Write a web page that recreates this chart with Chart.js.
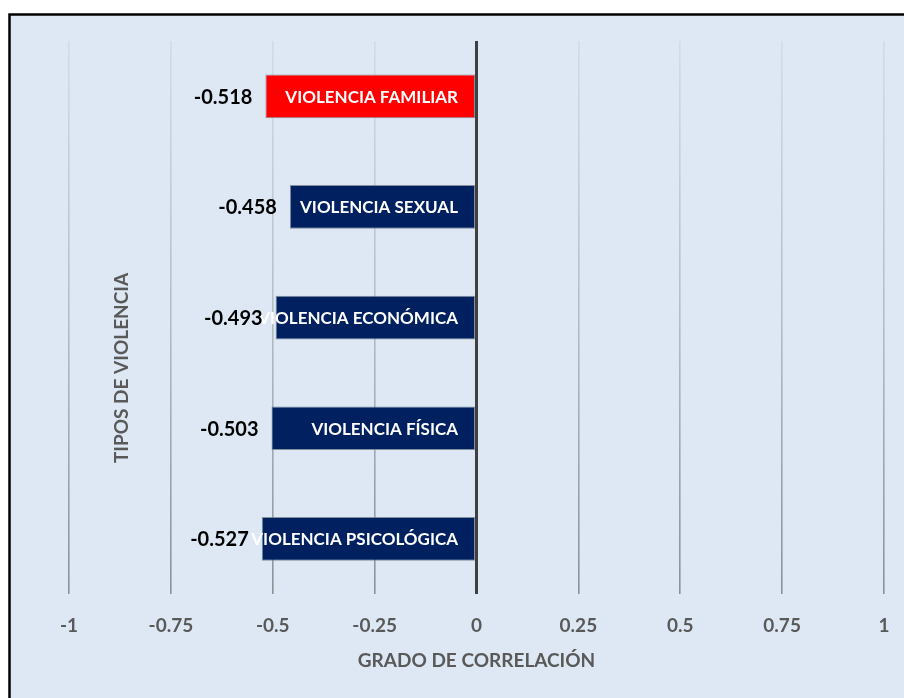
<!DOCTYPE html>
<html>
<head>
<meta charset="utf-8">
<script src="https://cdn.jsdelivr.net/npm/chart.js@4.4.1/dist/chart.umd.min.js"></script>
<style>
html,body{margin:0;padding:0;background:#ffffff;}
#wrap{position:relative;width:904px;height:698px;}
</style>
</head>
<body>
<div id="wrap"><canvas id="c" width="904" height="698"></canvas></div>
<script>
const categories = ["VIOLENCIA FAMILIAR","VIOLENCIA SEXUAL","VIOLENCIA ECONÓMICA","VIOLENCIA FÍSICA","VIOLENCIA PSICOLÓGICA"];
const correlations = [-0.518, -0.458, -0.493, -0.503, -0.527];
const barColors = ["#ff0000","#002060","#002060","#002060","#002060"];
const xTicks = [-1,-0.75,-0.5,-0.25,0,0.25,0.5,0.75,1];
const xTitle = "GRADO DE CORRELACIÓN";
const yTitle = "TIPOS DE VIOLENCIA";

const FONT = "Lato, 'Open Sans', 'DejaVu Sans', sans-serif";

const bgPlugin = {
  id: 'bg',
  beforeDraw(chart){
    const ctx = chart.ctx;
    ctx.save();
    ctx.fillStyle = '#ffffff';
    ctx.fillRect(0,0,chart.width,chart.height);
    ctx.fillStyle = '#dde8f4';
    ctx.fillRect(9,14,chart.width-9,chart.height-14);
    ctx.strokeStyle = '#000000';
    ctx.lineWidth = 2.5;
    ctx.beginPath();
    ctx.moveTo(9.5, chart.height+2);
    ctx.lineTo(9.5, 14.5);
    ctx.lineTo(chart.width+2, 14.5);
    ctx.stroke();
    ctx.restore();
  }
};

const labelPlugin = {
  id: 'labels',
  afterDatasetsDraw(chart){
    const ctx = chart.ctx;
    const meta = chart.getDatasetMeta(0);
    const area = chart.chartArea;
    const xs = chart.scales.x;
    ctx.save();
    ctx.textBaseline = 'middle';
    meta.data.forEach((bar, i) => {
      const left = Math.min(bar.x, bar.base);
      const right = Math.max(bar.x, bar.base);
      ctx.font = "bold 17px " + FONT;
      ctx.fillStyle = '#ffffff';
      ctx.textAlign = 'right';
      ctx.fillText(categories[i], right - 17, bar.y + 1);
      ctx.font = "bold 20px " + FONT;
      ctx.fillStyle = '#000000';
      ctx.textAlign = 'right';
      ctx.fillText(correlations[i].toFixed(3), left - 13, bar.y + 1);
    });
    // x axis title
    ctx.font = "bold 19px " + FONT;
    ctx.fillStyle = '#595959';
    ctx.textAlign = 'center';
    ctx.fillText(xTitle, xs.getPixelForValue(0), area.bottom + 67);
    // y axis title
    ctx.translate(122, 368);
    ctx.rotate(-Math.PI/2);
    ctx.fillText(yTitle, 0, 0);
    ctx.restore();
  }
};

new Chart(document.getElementById('c'), {
  type: 'bar',
  data: {
    labels: categories,
    datasets: [{
      data: correlations,
      backgroundColor: barColors,
      borderColor: 'rgba(110,120,135,0.8)',
      borderWidth: 1,
      borderSkipped: false,
      categoryPercentage: 1,
      barPercentage: 0.395
    }]
  },
  options: {
    indexAxis: 'y',
    responsive: false,
    animation: false,
    devicePixelRatio: 1,
    layout: { padding: { left: 69, right: 20, top: 41, bottom: 41 } },
    plugins: { legend: { display: false }, tooltip: { enabled: false } },
    scales: {
      y: { display: false },
      x: {
        min: -1, max: 1,
        afterBuildTicks(axis){ axis.ticks = xTicks.map(v => ({value: v})); },
        afterFit(axis){ axis.paddingLeft = 0; axis.paddingRight = 0; },
        border: { display: false },
        grid: {
          drawTicks: false,
          lineWidth: (c) => (c.tick && c.tick.value === 0) ? 3 : 1.6,
          color: (c) => {
            if (c.tick && c.tick.value === 0) return '#404040';
            const chart = c.chart;
            const area = chart.chartArea;
            if (!area) return '#b0b8c0';
            const g = chart.ctx.createLinearGradient(0, area.top, 0, area.bottom);
            g.addColorStop(0, '#d2dce7');
            g.addColorStop(0.5, '#b4bcc6');
            g.addColorStop(1, '#8a9199');
            return g;
          }
        },
        ticks: {
          padding: 20,
          color: '#595959',
          font: { family: FONT, size: 19, weight: 'bold' },
          callback: (v) => String(v)
        },
        title: { display: false }
      }
    }
  },
  plugins: [bgPlugin, labelPlugin]
});
</script>
</body>
</html>
